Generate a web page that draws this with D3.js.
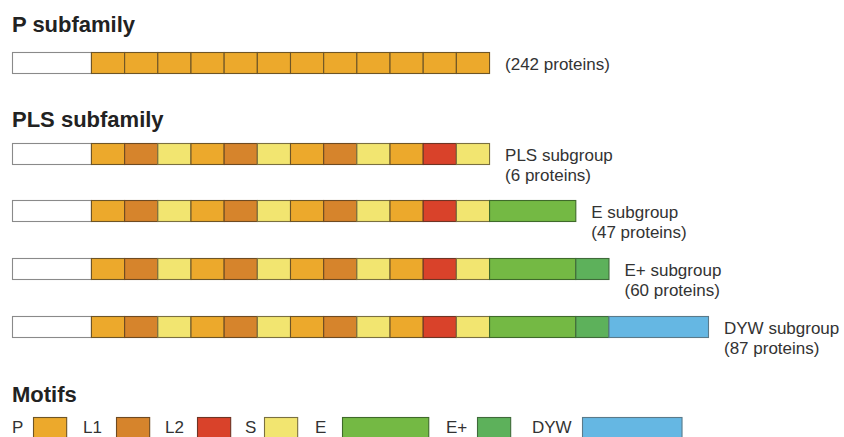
<!DOCTYPE html>
<html>
<head>
<meta charset="utf-8">
<script src="https://cdn.jsdelivr.net/npm/d3@7"></script>
<style>
  html, body { margin: 0; padding: 0; background: #fff; }
  svg { display: block; }
  text { font-family: "Liberation Sans", Arial, sans-serif; fill: #2a2a2a; }
</style>
</head>
<body>
<svg id="chart" width="844" height="437"></svg>
<script>
// ---- data ----
const motifNames   = ["N", "P", "L1", "L2", "S", "E", "E+", "DYW"];
const motifLengths = [2.38, 1, 1, 1, 1, 2.6, 1, 3];
const plsCore = ["P","L1","S","P","L1","S","P","L1","S","P","L2","S"];
const pCore   = ["P","P","P","P","P","P","P","P","P","P","P","P"];
const rowMotifs = [
  ["N"].concat(pCore),
  ["N"].concat(plsCore),
  ["N"].concat(plsCore, ["E"]),
  ["N"].concat(plsCore, ["E", "E+"]),
  ["N"].concat(plsCore, ["E", "E+", "DYW"])
];
const rowNames      = ["", "PLS subgroup", "E subgroup", "E+ subgroup", "DYW subgroup"];
const proteinCounts = [242, 6, 47, 60, 87];
const headings      = ["P subfamily", "PLS subfamily", "Motifs"];
const legendMotifs  = ["P", "L1", "L2", "S", "E", "E+", "DYW"];

// ---- styles / layout ----
const motifColors = {
  "N": "#ffffff", "P": "#eca92c", "L1": "#d6842c", "L2": "#d9422a",
  "S": "#f2e570", "E": "#74b944", "E+": "#5db15b", "DYW": "#65b7e3"
};
const motifStroke = {
  "N": "#8a8a8a", "P": "#6e5526", "L1": "#6e4a22", "L2": "#6e3424",
  "S": "#7a7040", "E": "#3f6a2a", "E+": "#3f6a3a", "DYW": "#5a7a8a"
};
const rowTop = [52, 143, 200, 258, 316];
const rowH = 21;
const headingBase = [32, 127, 402];
const legendLabelX = [12, 83, 165, 245, 315, 446, 532];
const legendBoxX   = [33, 116, 197, 264, 342, 477, 582];

const lenOf = {};
motifNames.forEach((m, i) => lenOf[m] = motifLengths[i]);
const maxTotal = d3.max(rowMotifs, r => d3.sum(r, m => lenOf[m]));
const x = d3.scaleLinear().domain([0, maxTotal]).range([12, 708]);
const unit = x(1) - x(0);

const svg = d3.select("#chart");

// headings
svg.selectAll("text.heading").data(headings).join("text")
  .attr("class", "heading")
  .attr("x", 12).attr("y", (d, i) => headingBase[i])
  .style("font-size", "22px").style("font-weight", "bold")
  .style("fill", "#222")
  .text(d => d);

// rows
rowMotifs.forEach((motifs, ri) => {
  let acc = 0;
  const segs = motifs.map(m => { const s = {m, start: acc, len: lenOf[m]}; acc += lenOf[m]; return s; });
  const g = svg.append("g").attr("transform", `translate(0,${rowTop[ri]})`);
  g.selectAll("rect").data(segs).join("rect")
    .attr("x", d => x(d.start) + 0.5)
    .attr("y", 0.5)
    .attr("width", d => x(d.start + d.len) - x(d.start))
    .attr("height", rowH)
    .attr("fill", d => motifColors[d.m])
    .attr("stroke", d => motifStroke[d.m])
    .attr("stroke-width", 1.1);

  const endX = x(acc) + 16;
  const lines = ri === 0
    ? [`(${proteinCounts[ri]} proteins)`]
    : [rowNames[ri], `(${proteinCounts[ri]} proteins)`];
  g.selectAll("text").data(lines).join("text")
    .attr("x", endX)
    .attr("y", (d, i) => 18 + i * 20)
    .style("font-size", "17px")
    .style("fill", "#333")
    .text(d => d);
});

// legend
const lg = svg.append("g").attr("transform", "translate(0,417)");
legendMotifs.forEach((m, i) => {
  lg.append("text")
    .attr("x", legendLabelX[i]).attr("y", 16)
    .style("font-size", "17px").style("fill", "#333")
    .text(m);
  lg.append("rect")
    .attr("x", legendBoxX[i] + 0.5).attr("y", 0.5)
    .attr("width", unit * lenOf[m]).attr("height", rowH)
    .attr("fill", motifColors[m])
    .attr("stroke", motifStroke[m]).attr("stroke-width", 1.1);
});
</script>
</body>
</html>
